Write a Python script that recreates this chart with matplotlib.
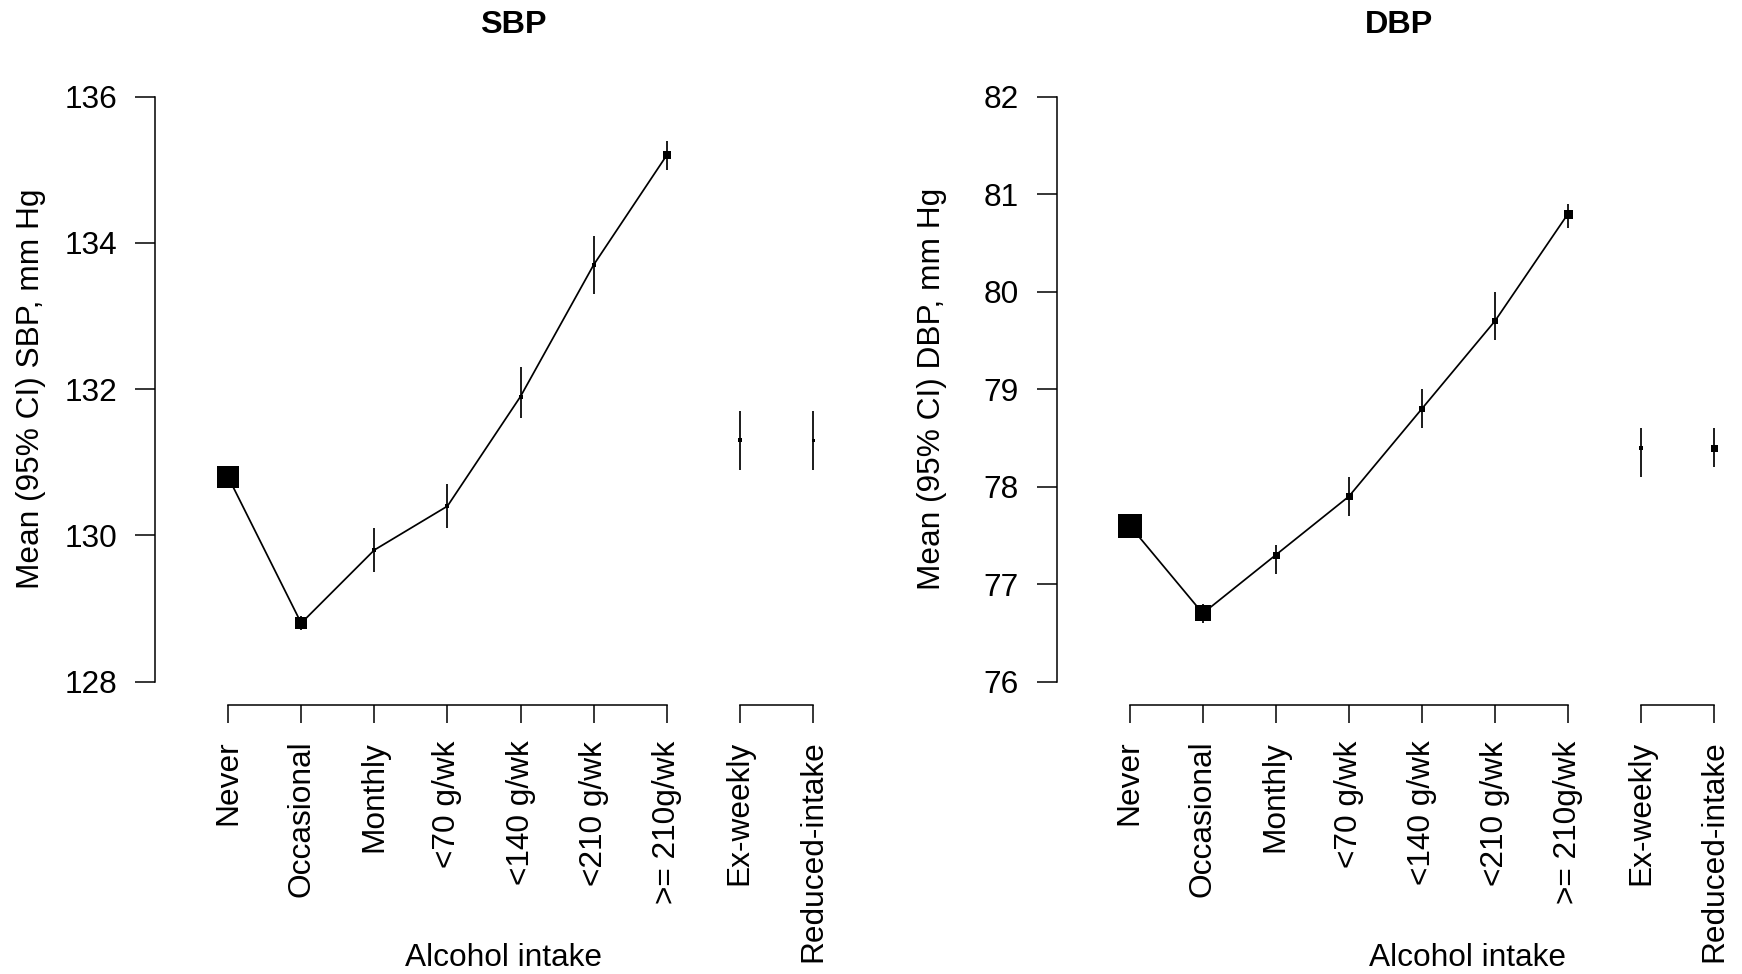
# Alcohol intake vs mean blood pressure (SBP / DBP), R base-graphics look

import numpy as np
import matplotlib
matplotlib.use("Agg")
import matplotlib.pyplot as plt

# Data Starts

categories = ["Never", "Occasional", "Monthly", "<70 g/wk", "<140 g/wk",
              "<210 g/wk", ">= 210g/wk", "Ex-weekly", "Reduced-intake"]
n_trend = 7  # first 7 categories are joined by a line

sbp_mean = [130.8, 128.8, 129.8, 130.4, 131.9, 133.7, 135.2, 131.3, 131.3]
sbp_low = [130.7, 128.7, 129.5, 130.1, 131.6, 133.3, 135.0, 130.9, 130.9]
sbp_high = [130.9, 128.9, 130.1, 130.7, 132.3, 134.1, 135.4, 131.7, 131.7]
sbp_box = [22, 12, 5, 5, 4, 4, 8, 5, 3]   # square side, px (weight)

dbp_mean = [77.6, 76.7, 77.3, 77.9, 78.8, 79.7, 80.8, 78.4, 78.4]
dbp_low = [77.55, 76.6, 77.1, 77.7, 78.6, 79.5, 80.65, 78.1, 78.2]
dbp_high = [77.65, 76.8, 77.4, 78.1, 79.0, 80.0, 80.9, 78.6, 78.6]
dbp_box = [24, 16, 7, 7, 6.5, 5.5, 9, 5, 7]

sbp_ticks = [128, 130, 132, 134, 136]
dbp_ticks = [76, 77, 78, 79, 80, 81, 82]

# Data Ends

plt.rcParams['font.family'] = ['Liberation Sans', 'DejaVu Sans']

W, H = 1742, 974
fig = plt.figure(figsize=(W / 100, H / 100), dpi=100)

PX = 0.72  # px -> pt at 100 dpi
FS = 22.8


def draw_panel(ax, mean, low, high, box, ticks):
    x = np.arange(len(categories))
    ax.plot(x[:n_trend], mean[:n_trend], color="black", lw=1.25, zorder=2)
    ax.vlines(x, low, high, color="black", lw=1.25, zorder=2)
    for xi, yi, s in zip(x, mean, box):
        ax.plot(xi, yi, marker="s", ms=s * PX, mfc="black", mec="black",
                mew=0, ls="none", zorder=3)

    pad = (ticks[-1] - ticks[0]) * 0.04
    ax.set_ylim(ticks[0] - pad, ticks[-1] + pad)
    ax.set_xlim(-1, 8.35)

    ax.spines["top"].set_visible(False)
    ax.spines["right"].set_visible(False)
    ax.spines["left"].set_bounds(ticks[0], ticks[-1])
    ax.spines["bottom"].set_bounds(0, n_trend - 1)
    for sp in ("left", "bottom"):
        ax.spines[sp].set_linewidth(1.1)
    # second x-axis segment for the ex / reduced groups
    ax.plot([n_trend, len(categories) - 1], [0, 0], color="black", lw=1.1,
            transform=ax.get_xaxis_transform(), clip_on=False,
            solid_capstyle="projecting")

    ax.set_yticks(ticks)
    ax.set_yticklabels([str(t) for t in ticks])
    ax.set_xticks(x)
    ax.set_xticklabels(categories, rotation=90)
    ax.tick_params(axis="y", length=14.4, width=1.1, pad=13, labelsize=FS)
    ax.tick_params(axis="x", length=12.7, width=1.1, pad=13, labelsize=FS)


ax1 = fig.add_axes([155 / W, 1 - 705 / H, 683.5 / W, (705 - 73.4) / H])
draw_panel(ax1, sbp_mean, sbp_low, sbp_high, sbp_box, sbp_ticks)

ax2 = fig.add_axes([1056.7 / W, 1 - 705 / H, 683 / W, (705 - 73.4) / H])
draw_panel(ax2, dbp_mean, dbp_low, dbp_high, dbp_box, dbp_ticks)

# titles and axis labels
fig.text(513 / W, 1 - 33.3 / H, "SBP", ha="center", va="baseline",
         fontsize=23.3, fontweight="bold")
fig.text(1398.5 / W, 1 - 33.3 / H, "DBP", ha="center", va="baseline",
         fontsize=23.3, fontweight="bold")

fig.text(31 / W, 1 - 389 / H, "Mean (95% CI) SBP, mm Hg", rotation=90,
         ha="center", va="center", fontsize=FS)
fig.text(932 / W, 1 - 389 / H, "Mean (95% CI) DBP, mm Hg", rotation=90,
         ha="center", va="center", fontsize=FS)

fig.text(503 / W, 1 - 966 / H, "Alcohol intake", ha="center", va="baseline",
         fontsize=FS)
fig.text(1467 / W, 1 - 966 / H, "Alcohol intake", ha="center", va="baseline",
         fontsize=FS)

fig.savefig("out.png", dpi=100)
